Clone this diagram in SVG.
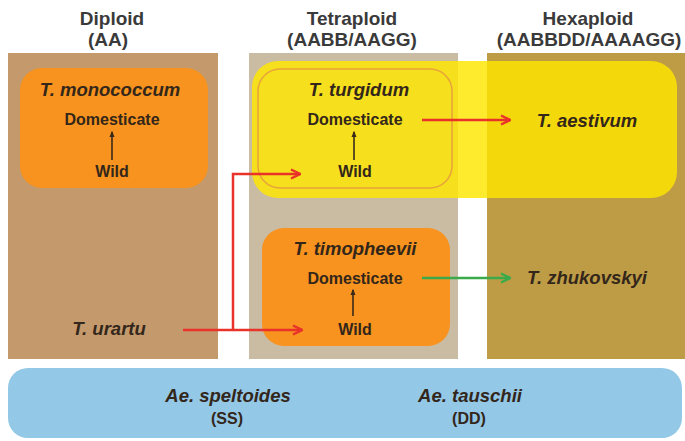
<svg xmlns="http://www.w3.org/2000/svg" width="685" height="441" viewBox="0 0 685 441">
<defs>
<marker id="arRed" viewBox="0 0 10 10" refX="9" refY="5" markerWidth="4.5" markerHeight="4.5" orient="auto">
<path d="M1,1 L9,5 L1,9" fill="none" stroke="#E8322A" stroke-width="2.2"/>
</marker>
<marker id="arGreen" viewBox="0 0 10 10" refX="9" refY="5" markerWidth="4.5" markerHeight="4.5" orient="auto">
<path d="M1,1 L9,5 L1,9" fill="none" stroke="#3BAA4A" stroke-width="2.2"/>
</marker>
<marker id="arDark" viewBox="0 0 10 10" refX="8" refY="5" markerWidth="4" markerHeight="4" orient="auto">
<path d="M0,1 L10,5 L0,9 Z" fill="#3a2a1a"/>
</marker>
</defs>
<style>
text{font-family:"Liberation Sans",Arial,sans-serif;font-weight:bold;fill:#33261a;text-anchor:middle}
.h{font-size:19px;fill:#3a3a3a}
.sp{font-size:18.5px;font-style:italic}
.st{font-size:16px}
.red{stroke:#E8322A;stroke-width:2.5;fill:none}
.grn{stroke:#3BAA4A;stroke-width:2.5;fill:none}
.up{stroke:#3a2a1a;stroke-width:1.6;fill:none}
</style>
<rect width="685" height="441" fill="#fff"/>
<g id="headers">
<text class="h" x="112" y="25">Diploid</text>
<text class="h" x="108" y="46">(AA)</text>
<text class="h" x="352" y="25">Tetraploid</text>
<text class="h" x="352" y="46">(AABB/AAGG)</text>
<text class="h" x="588" y="25">Hexaploid</text>
<text class="h" x="589" y="46">(AABBDD/AAAAGG)</text>
</g>
<g id="diploid">
<rect x="8" y="53" width="210" height="306" fill="#C4996C"/>
</g>
<g id="tetraploid">
<rect x="249" y="53" width="209" height="306" fill="#CABBA3"/>
</g>
<g id="hexaploid">
<rect x="487" y="53" width="198" height="306" fill="#BE9C46"/>
</g>
<g id="monococcum">
<rect x="20" y="68" width="188" height="120" rx="22" fill="#F7931E"/>
<text class="sp" x="110" y="96">T. monococcum</text>
<text class="st" x="112" y="125">Domesticate</text>
<line class="up" x1="112" y1="160" x2="112" y2="132" marker-end="url(#arDark)"/>
<text class="st" x="112" y="177">Wild</text>
</g>
<g id="aestivum-group">
<rect x="252" y="61" width="425" height="137" rx="26" fill="#FFE600" fill-opacity="0.82"/>
<text class="sp" x="587" y="127">T. aestivum</text>
</g>
<g id="turgidum">
<rect x="258" y="69" width="194" height="119" rx="22" fill="none" stroke="#E8A33A" stroke-width="1.5"/>
<text class="sp" x="359" y="96">T. turgidum</text>
<text class="st" x="355" y="125">Domesticate</text>
<line class="up" x1="354" y1="160" x2="354" y2="132" marker-end="url(#arDark)"/>
<text class="st" x="355" y="177">Wild</text>
</g>
<g id="timopheevii">
<rect x="262" y="228" width="188" height="118" rx="22" fill="#F7931E"/>
<text class="sp" x="355" y="255">T. timopheevii</text>
<text class="st" x="355" y="284">Domesticate</text>
<line class="up" x1="353" y1="316" x2="353" y2="290" marker-end="url(#arDark)"/>
<text class="st" x="355" y="335">Wild</text>
</g>
<g id="zhukovskyi">
<text class="sp" x="587" y="284">T. zhukovskyi</text>
</g>
<g id="urartu">
<text class="sp" x="109" y="335">T. urartu</text>
</g>
<g id="aegilops">
<rect x="8" y="368" width="674" height="70" rx="20" fill="#93C8E6"/>
<text class="sp" x="228" y="402">Ae. speltoides</text>
<text class="st" x="227" y="424">(SS)</text>
<text class="sp" x="470" y="402">Ae. tauschii</text>
<text class="st" x="469" y="424">(DD)</text>
</g>
<g id="connectors">
<line class="red" x1="422" y1="120" x2="510" y2="120" marker-end="url(#arRed)"/>
<line class="grn" x1="422" y1="278" x2="510" y2="278" marker-end="url(#arGreen)"/>
<line class="red" x1="183" y1="330" x2="302" y2="330" marker-end="url(#arRed)"/>
<polyline class="red" points="233,330 233,174 300,174" marker-end="url(#arRed)"/>
</g>
</svg>
